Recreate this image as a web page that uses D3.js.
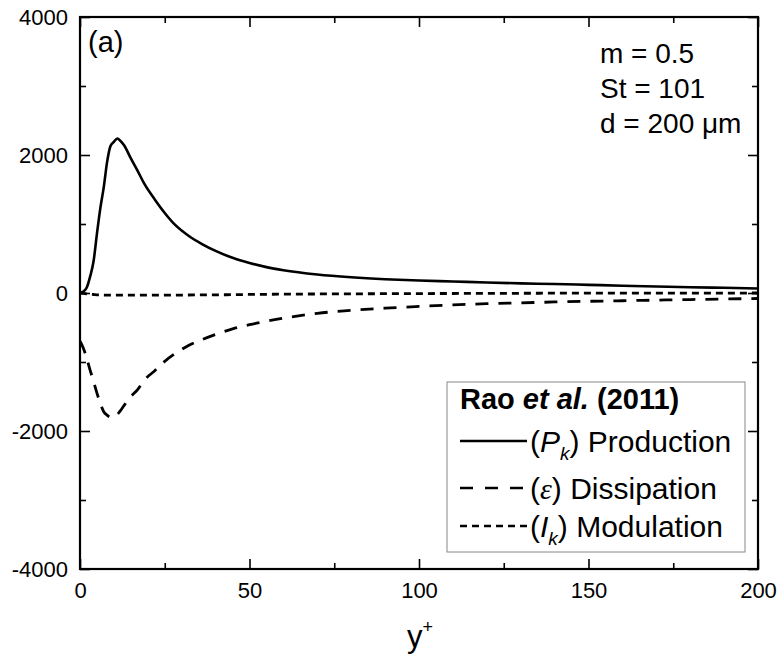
<!DOCTYPE html>
<html>
<head>
<meta charset="utf-8">
<script src="https://cdn.jsdelivr.net/npm/d3@7"></script>
<style>
  body { margin: 0; background: #fff; }
  text { font-family: "Liberation Sans", Arial, sans-serif; fill: #000; }
</style>
</head>
<body>
<div id="chart"></div>
<script>
// budget terms vs y+
var yPlus = [0, 1, 2, 3, 4, 5, 6, 7, 8, 9, 10, 11, 12, 13, 15, 17, 19, 22, 25, 28, 32, 36, 40, 45, 50, 55, 60,
             70, 80, 90, 100, 110, 120, 130, 140, 150, 160, 170, 180, 190, 200]
var production = [0, 20, 80, 240, 460, 860, 1230, 1530, 1900, 2130, 2190, 2240, 2200, 2140, 1950, 1770, 1580,
                  1360, 1160, 990, 830, 710, 610, 510, 435, 375, 330,
                  268, 228, 200, 181, 167, 152, 140, 130, 118, 106, 95, 84, 75, 66]
var dissipation = [-700, -800, -950, -1120, -1280, -1450, -1600, -1720, -1770, -1800, -1800, -1760, -1700, -1630,
                   -1500, -1400, -1260, -1130, -990, -880, -760, -675, -600, -520, -460, -410, -365,
                   -295, -250, -220, -195, -172, -155, -143, -130, -120, -112, -103, -95, -87, -80]
var modulation = [0, -5, -12, -18, -22, -26, -28, -30, -30, -30, -30, -30, -30, -30, -30, -30, -30, -30, -30,
                  -30, -29, -28, -27, -24, -21, -19, -17, -14, -12, -10, -8, -7, -5, -4, -3, -3, -2, -2, -1, -1, 0]

var xMajor = [0, 50, 100, 150, 200]
var xMinor = [25, 75, 125, 175]
var yMajor = [-4000, -2000, 0, 2000, 4000]
var yMinor = [-3000, -1000, 1000, 3000]

var width = 782
var height = 662
var margin = {top: 17, right: 24, bottom: 93, left: 80}
var w = width - margin.left - margin.right
var h = height - margin.top - margin.bottom

var svg = d3.select("#chart").append("svg")
    .attr("width", width)
    .attr("height", height)

var g = svg.append("g")
    .attr("transform", "translate(" + margin.left + "," + margin.top + ")")

var x = d3.scaleLinear().domain([0, 200]).range([0, w])
var y = d3.scaleLinear().domain([-4000, 4000]).range([h, 0])

g.append("clipPath").attr("id", "clip")
  .append("rect").attr("width", w).attr("height", h)

// ticks pointing inward, on all four sides
function tickAxis(axis, values, size, showLabels) {
    var a = axis.tickValues(values).tickSize(-size).tickPadding(showLabels ? 13 : 0)
    if (showLabels) a.tickFormat(function(d) { return String(d) })
    else a.tickFormat("")
    return a
}

var gx = g.append("g").attr("transform", "translate(0," + h + ")")
gx.call(tickAxis(d3.axisBottom(x), xMajor, 10, true))
gx.append("g").call(tickAxis(d3.axisBottom(x), xMinor, 6, false))

var gxt = g.append("g")
gxt.call(tickAxis(d3.axisTop(x), xMajor, 10, false))
gxt.append("g").call(tickAxis(d3.axisTop(x), xMinor, 6, false))

var gy = g.append("g")
gy.call(tickAxis(d3.axisLeft(y), yMajor, 10, true).tickPadding(12))
gy.append("g").call(tickAxis(d3.axisLeft(y), yMinor, 6, false))

var gyr = g.append("g").attr("transform", "translate(" + w + ",0)")
gyr.call(tickAxis(d3.axisRight(y), yMajor, 10, false))
gyr.append("g").call(tickAxis(d3.axisRight(y), yMinor, 6, false))

g.selectAll(".domain").remove()
g.selectAll(".tick line").attr("stroke", "#000").attr("stroke-width", 1.6)
g.selectAll(".tick text").attr("font-size", 22)
    .style("font-family", "'Liberation Sans', Arial, sans-serif")

// series
var series = [
    {name: "production", values: production, dash: null, width: 2.6},
    {name: "dissipation", values: dissipation, dash: "13,10", width: 2.8},
    {name: "modulation", values: modulation, dash: "7,5", width: 2.8}
]

var line = d3.line()
    .x(function(d) { return x(d[0]) })
    .y(function(d) { return y(d[1]) })
    .curve(d3.curveMonotoneX)

g.append("g").attr("clip-path", "url(#clip)")
  .selectAll("path")
  .data(series)
  .enter()
  .append("path")
    .attr("fill", "none")
    .attr("stroke", "#000")
    .attr("stroke-width", function(d) { return d.width })
    .attr("stroke-dasharray", function(d) { return d.dash })
    .attr("d", function(d) { return line(yPlus.map(function(v, i) { return [v, d.values[i]] })) })

// frame
g.append("rect")
    .attr("width", w).attr("height", h)
    .attr("fill", "none").attr("stroke", "#000").attr("stroke-width", 2.2)

// panel label and parameters
g.append("text").attr("x", 8).attr("y", 35).attr("font-size", 29).text("(a)")

var params = ["m = 0.5", "St = 101", "d = 200 \u03bcm"]
g.selectAll(".param").data(params).enter()
  .append("text")
    .attr("class", "param")
    .attr("x", 520)
    .attr("y", function(d, i) { return 46 + i * 35 })
    .attr("font-size", 28)
    .text(function(d) { return d })

// x axis title
var xt = svg.append("text")
    .attr("x", 407)
    .attr("y", 647)
    .attr("font-size", 31)
xt.append("tspan").text("y")
xt.append("tspan").attr("dy", -14).attr("font-size", 18).text("+")

// legend
var lg = svg.append("g").attr("transform", "translate(447,382)")
lg.append("rect")
    .attr("width", 298).attr("height", 170)
    .attr("fill", "#fff").attr("stroke", "#888").attr("stroke-width", 1)

var title = lg.append("text").attr("x", 13).attr("y", 27).attr("font-size", 29).attr("font-weight", "bold")
title.append("tspan").text("Rao ")
title.append("tspan").attr("font-style", "italic").text("et al.")
title.append("tspan").text(" (2011)")

var rows = [
    {dash: null, y: 70, sym: "P", sub: "k", label: "Production"},
    {dash: "13,12", y: 117, sym: "\u03b5", sub: null, label: "Dissipation"},
    {dash: "7,5", y: 155, sym: "I", sub: "k", label: "Modulation"}
]

rows.forEach(function(r) {
    lg.append("line")
        .attr("x1", 13).attr("x2", 80)
        .attr("y1", r.y - 11).attr("y2", r.y - 11)
        .attr("stroke", "#000").attr("stroke-width", 2.6)
        .attr("stroke-dasharray", r.dash)
    var t = lg.append("text").attr("x", 83).attr("y", r.y).attr("font-size", 30)
    t.append("tspan").text("(")
    var s = t.append("tspan").attr("font-style", "italic").text(r.sym)
    if (r.sym === "\u03b5") s.style("font-family", "'Liberation Serif', 'Times New Roman', serif")
    if (r.sub) {
        t.append("tspan").attr("dy", 8).attr("font-size", 19).attr("font-style", "italic").text(r.sub)
        t.append("tspan").attr("dy", -8).text(") " + r.label)
    } else {
        t.append("tspan").text(") " + r.label)
    }
})
</script>
</body>
</html>
